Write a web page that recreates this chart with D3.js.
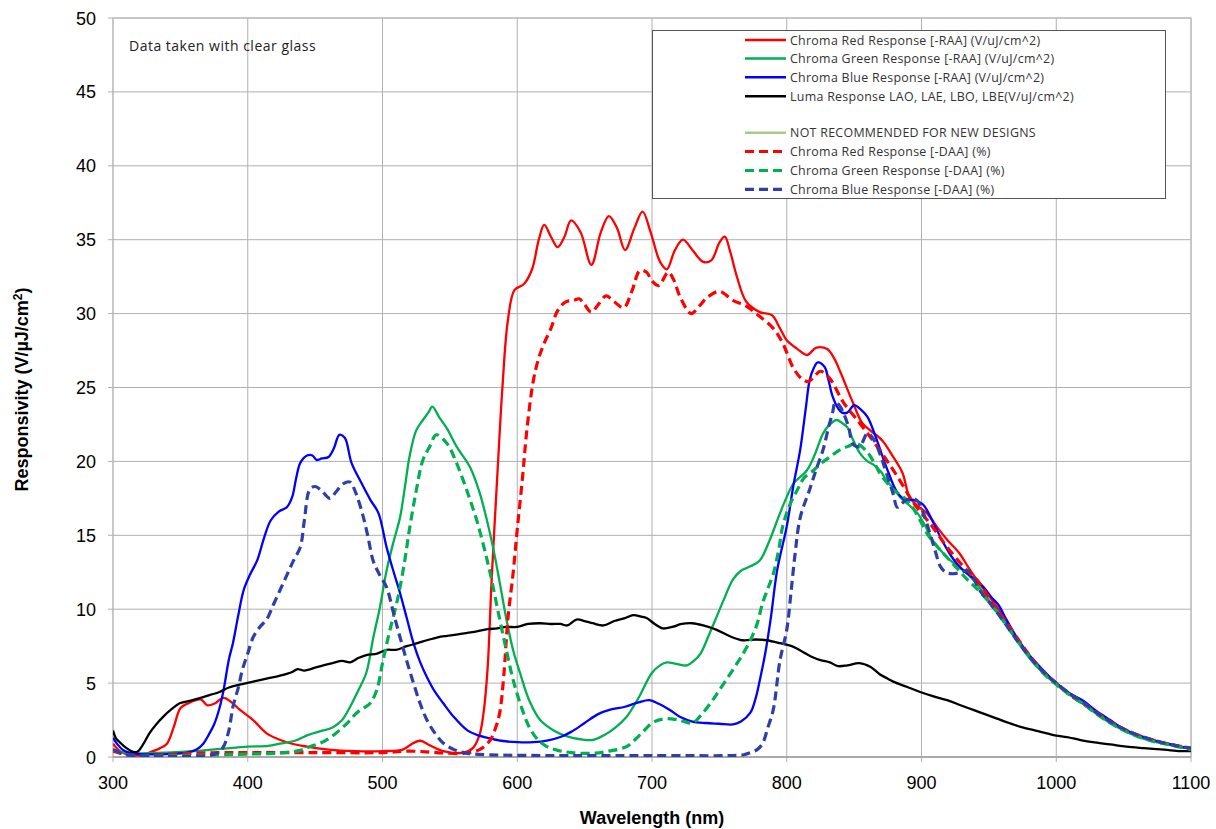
<!DOCTYPE html>
<html lang="en">
<head>
<meta charset="UTF-8">
<title>Spectral Responsivity</title>
<script src="https://d3js.org/d3.v7.min.js"></script>
<style>
  body { margin: 0; background: #fff; font-family: Arial, "Liberation Sans", sans-serif; }
  .grid line { stroke: #b0b0b0; stroke-width: 1px; }
  .tick-label { font-size: 18px; fill: #000; }
  .axis-title { font-size: 18px; font-weight: bold; fill: #000; }
  .legend-text { font-family: "Open Sans", sans-serif; font-size: 12.4px; letter-spacing: 0.3px; fill: #333; }
  .note { font-family: "Open Sans", sans-serif; font-size: 14px; letter-spacing: 0.5px; fill: #222; }
</style>
</head>
<body>
<svg width="1216" height="829"></svg>
<script>
// wavelength (nm), responsivity pairs
const redRAA = [[300,0.9],[305,0.4],[310,0.2],[320,0.1],[327,0.3],[335,0.6],[340,0.9],[345,2.0],[350,3.3],[355,3.6],[365,3.9],[370,3.5],[375,3.6],[382,4.0],[388,3.7],[394,3.2],[404,2.5],[414,1.6],[429,1.0],[444,0.7],[460,0.5],[480,0.4],[500,0.4],[515,0.5],[522,0.9],[528,1.1],[535,0.8],[545,0.4],[560,0.3],[567,0.6],[572,1.5],[575,3.0],[578,6.0],[581,12],[585,18.7],[589,25],[593,29.5],[598,31.6],[605,32],[611,33],[616,35],[620,36],[625,35.2],[630,34.5],[635,35.2],[640,36.3],[647,35.5],[655,33.3],[662,35.5],[668,36.6],[674,35.8],[680,34.3],[687,35.8],[693,36.9],[699,35.5],[706,33.5],[711,33],[717,34.3],[723,35],[730,34.3],[738,33.5],[744,33.6],[750,34.8],[754,35.2],[758,34.2],[763,32.5],[770,30.8],[780,30.1],[789,29.9],[795,29],[800,28.2],[808,27.6],[815,27.2],[822,27.7],[830,27.6],[835,27],[840,26],[849,24],[856,22.6],[862,22.1],[871,21.4],[879,20.3],[886,19.2],[891,17.6],[897,17],[904,16.5],[912,15.5],[919,14.7],[928,13.8],[935,12.8],[941,12],[950,10.9],[960,9.6],[970,8.1],[980,6.8],[990,5.8],[1000,5.0],[1010,4.3],[1020,3.6],[1030,3.0],[1040,2.4],[1050,1.9],[1060,1.5],[1070,1.2],[1080,0.95],[1090,0.75],[1100,0.55]];

const greenRAA = [[300,0.5],[305,0.35],[310,0.3],[320,0.25],[340,0.3],[360,0.4],[380,0.55],[400,0.7],[415,0.75],[424,0.9],[435,1.1],[445,1.5],[454,1.75],[463,2.0],[470,2.5],[476,3.4],[482,4.5],[488,5.7],[493,8.0],[498,10.1],[503,12.6],[508,14.5],[513,16.2],[517,18.5],[520,20.3],[525,22.1],[530,22.8],[534,23.3],[537,23.7],[542,23.0],[548,22.2],[555,21.0],[565,19.6],[572,17.9],[577,16.2],[582,14.2],[587,11.8],[592,9.3],[597,7.2],[602,5.7],[609,3.8],[617,2.5],[627,1.8],[637,1.4],[647,1.2],[656,1.15],[665,1.5],[673,2.0],[681,2.7],[690,4.0],[700,5.7],[706,6.2],[711,6.4],[718,6.3],[726,6.2],[731,6.5],[736,7.0],[742,8.2],[748,9.5],[754,10.8],[760,12.0],[766,12.6],[773,12.9],[780,13.3],[787,14.6],[795,16.5],[800,17.6],[805,18.5],[815,19.4],[821,20.5],[827,21.9],[832,22.5],[837,22.8],[841,22.6],[845,22.3],[849,21.5],[854,20.6],[860,20.0],[864,19.8],[870,19.3],[874,18.7],[879,18.2],[884,17.6],[890,17.1],[897,16.5],[903,15.6],[908,14.7],[914,14.0],[919,13.5],[927,12.9],[934,12.4],[941,11.7],[950,10.6],[960,9.4],[970,8.0],[980,6.7],[990,5.7],[1000,4.9],[1010,4.2],[1020,3.6],[1030,2.9],[1040,2.3],[1050,1.8],[1060,1.4],[1070,1.1],[1080,0.9],[1090,0.7],[1100,0.55]];

const blueRAA = [[300,1.3],[303,0.9],[307,0.5],[312,0.3],[320,0.2],[340,0.2],[355,0.3],[362,0.5],[367,0.9],[371,1.5],[375,2.2],[379,3.3],[382,4.5],[386,6.6],[389,7.7],[393,9.6],[397,11.3],[402,12.4],[407,13.3],[412,14.8],[417,16.0],[423,16.6],[429,16.9],[433,17.6],[436,18.9],[439,19.9],[444,20.4],[448,20.4],[451,20.1],[455,20.2],[460,20.3],[464,20.9],[468,21.8],[472,21.6],[477,19.9],[484,18.6],[491,17.4],[497,16.5],[503,14.2],[508,12.6],[513,11.1],[518,9.4],[523,7.7],[528,6.4],[533,5.4],[539,4.4],[545,3.65],[553,2.7],[563,1.8],[570,1.5],[578,1.3],[588,1.1],[600,1.0],[612,1.0],[622,1.1],[632,1.35],[640,1.7],[650,2.3],[660,2.9],[669,3.2],[680,3.4],[690,3.7],[698,3.85],[705,3.6],[713,3.2],[721,2.7],[730,2.4],[740,2.3],[750,2.25],[760,2.2],[766,2.4],[773,3.0],[777,4.0],[780,5.2],[784,7.0],[788,9.3],[793,12.7],[800,15.6],[805,18.4],[810,20.8],[814,23.5],[817,25.5],[820,26.3],[823,26.7],[828,26.4],[831,25.5],[834,24.4],[838,23.6],[841,23.3],[845,23.3],[850,23.8],[855,23.5],[860,23.0],[867,21.4],[874,19.6],[882,17.9],[888,17.4],[894,17.4],[901,17.1],[908,16.0],[915,14.7],[922,13.6],[928,12.9],[934,12.4],[940,12.0],[946,11.5],[952,10.8],[957,10.3],[963,9.3],[970,8.2],[980,6.9],[990,5.9],[1000,5.0],[1010,4.3],[1020,3.8],[1030,3.1],[1040,2.5],[1050,1.9],[1060,1.5],[1070,1.2],[1080,0.95],[1090,0.75],[1100,0.55]];

const lumaResp = [[300,1.8],[302,1.3],[305,1.0],[310,0.6],[315,0.35],[318,0.35],[322,0.8],[327,1.6],[332,2.2],[337,2.7],[343,3.2],[350,3.65],[357,3.8],[365,4.0],[372,4.2],[379,4.4],[386,4.7],[394,4.9],[404,5.1],[414,5.3],[424,5.5],[433,5.75],[437,5.95],[442,5.85],[452,6.1],[463,6.35],[470,6.5],[476,6.4],[482,6.7],[488,6.9],[496,7.0],[503,7.25],[510,7.25],[518,7.5],[526,7.7],[533,7.9],[541,8.1],[548,8.2],[556,8.3],[563,8.4],[570,8.5],[578,8.65],[585,8.7],[592,8.8],[600,8.8],[608,9.0],[617,9.05],[625,9.0],[632,9.0],[637,8.9],[644,9.3],[650,9.2],[656,9.05],[664,8.9],[672,9.2],[680,9.4],[686,9.6],[692,9.5],[696,9.4],[702,9.0],[708,8.7],[715,8.8],[722,9.0],[730,9.05],[738,8.9],[748,8.6],[757,8.2],[767,7.9],[777,7.95],[785,7.9],[795,7.7],[805,7.45],[812,7.1],[818,6.8],[825,6.55],[832,6.4],[838,6.15],[845,6.2],[854,6.35],[862,6.1],[869,5.6],[875,5.3],[879,5.1],[889,4.75],[899,4.4],[909,4.1],[919,3.85],[929,3.5],[938,3.2],[947,2.9],[956,2.6],[965,2.3],[975,2.0],[984,1.8],[993,1.6],[1000,1.45],[1008,1.35],[1018,1.15],[1027,1.0],[1040,0.85],[1052,0.7],[1065,0.6],[1080,0.5],[1092,0.4],[1100,0.4]];

const redDAA = [[300,0.4],[310,0.15],[320,0.1],[340,0.15],[360,0.25],[380,0.3],[400,0.3],[450,0.3],[500,0.3],[520,0.4],[540,0.3],[560,0.25],[572,0.5],[580,1.15],[584,2.0],[587,3.0],[590,5.5],[593,9.3],[597,12.5],[600,15.4],[604,19],[607,22],[612,25.5],[616,27],[620,28],[625,29],[630,30.2],[636,30.8],[642,30.9],[646,31],[650,30.6],[655,30.1],[660,30.6],[666,31.2],[672,30.8],[679,30.4],[685,31.5],[691,32.9],[696,32.8],[700,32.2],[705,31.9],[712,32.8],[716,32.3],[721,31.1],[729,30],[735,30.5],[741,31.1],[750,31.5],[760,30.9],[770,30.5],[780,29.8],[790,29],[797,28],[805,26.3],[811,25.6],[816,25.4],[820,25.7],[825,26.1],[832,25.6],[842,24],[854,22.6],[864,21.4],[874,20.1],[884,18.7],[894,17.2],[908,15.6],[919,14.2],[934,12.6],[941,12],[950,10.8],[960,9.5],[970,8.2],[980,6.9],[990,5.8],[1000,5.0],[1010,4.2],[1020,3.6],[1030,3.0],[1040,2.4],[1050,1.9],[1060,1.5],[1070,1.2],[1080,0.95],[1090,0.75],[1100,0.6]];

const greenDAA = [[300,0.5],[305,0.3],[310,0.15],[320,0.1],[350,0.1],[380,0.15],[400,0.2],[420,0.25],[439,0.45],[446,0.7],[454,0.95],[461,1.3],[468,1.8],[475,2.4],[481,3.0],[486,3.3],[491,3.65],[496,4.6],[500,6.35],[505,8.4],[511,10.6],[516,13],[520,15.4],[525,18],[530,20.1],[535,21.0],[540,21.8],[548,21.2],[554,20.1],[560,18.7],[565,17.4],[570,16.0],[575,14.3],[580,12.4],[587,9.3],[592,7.2],[597,5.2],[603,3.4],[609,2.0],[615,1.2],[622,0.7],[630,0.45],[640,0.3],[656,0.25],[668,0.4],[681,0.7],[690,1.4],[700,2.3],[705,2.5],[711,2.6],[720,2.5],[730,2.3],[737,2.9],[745,3.85],[752,4.8],[760,5.9],[767,6.9],[773,7.9],[778,9.0],[782,10.4],[786,11.4],[790,12.4],[794,14.0],[797,15.6],[802,17.0],[808,18.1],[813,18.9],[820,19.4],[826,19.9],[832,20.3],[838,20.7],[845,21.0],[852,21.2],[860,20.6],[865,19.9],[869,19.2],[874,18.6],[879,18.1],[889,17.4],[894,16.8],[899,16.0],[905,15.0],[912,14.2],[921,13.3],[927,12.7],[934,12.0],[941,11.4],[950,10.5],[960,9.3],[970,8.0],[980,6.8],[990,5.7],[1000,4.9],[1010,4.2],[1020,3.6],[1030,2.9],[1040,2.3],[1050,1.8],[1060,1.4],[1070,1.1],[1080,0.9],[1090,0.7],[1100,0.5]];

const blueDAA = [[300,0.5],[305,0.3],[310,0.15],[320,0.1],[370,0.1],[378,0.3],[382,0.7],[386,1.8],[389,3.4],[393,4.7],[396,5.9],[400,7.0],[404,8.1],[409,8.8],[414,9.3],[419,10.3],[424,11.3],[429,12.3],[434,13.3],[439,14.2],[442,16.0],[446,18.1],[450,18.3],[455,18.0],[461,17.5],[466,18.0],[471,18.5],[476,18.6],[480,17.9],[485,16.5],[489,15.0],[493,13.3],[498,12.3],[503,11.5],[508,9.8],[513,8.1],[518,6.5],[523,5.0],[528,3.6],[533,2.5],[539,1.6],[545,0.95],[553,0.5],[563,0.25],[580,0.15],[620,0.1],[700,0.1],[760,0.1],[768,0.15],[773,0.3],[778,0.5],[782,0.9],[786,2.0],[790,3.2],[795,6.55],[800,8.6],[803,11.0],[806,13.6],[810,16.2],[817,18.1],[822,19.5],[827,20.8],[831,22.3],[834,23.3],[836,24.0],[839,23.8],[842,23.3],[846,22.3],[849,21.2],[854,21.0],[860,21.9],[865,21.4],[870,20.3],[874,19.2],[879,17.8],[882,16.9],[886,17.2],[889,17.4],[896,17.4],[901,16.6],[906,15.2],[910,14.0],[914,12.9],[918,12.5],[923,12.4],[929,12.5],[934,12.6],[938,12.2],[943,11.3],[950,10.5],[960,9.3],[970,8.0],[980,6.8],[990,5.8],[1000,5.0],[1010,4.3],[1020,3.7],[1030,3.0],[1040,2.4],[1050,1.9],[1060,1.5],[1070,1.2],[1080,0.95],[1090,0.75],[1100,0.6]];

const xTicks = [300, 400, 500, 600, 700, 800, 900, 1000, 1100];
const yTicks = [0, 5, 10, 15, 20, 25, 30, 35, 40, 45, 50];

const seriesList = [
  { name: "Chroma Red Response [-RAA] (V/uJ/cm^2)", data: redRAA, color: "#ff0000", dash: null },
  { name: "Chroma Green Response [-RAA] (V/uJ/cm^2)", data: greenRAA, color: "#00b050", dash: null },
  { name: "Chroma Blue Response [-RAA] (V/uJ/cm^2)", data: blueRAA, color: "#0000ff", dash: null },
  { name: "Luma Response LAO, LAE, LBO, LBE(V/uJ/cm^2)", data: lumaResp, color: "#000000", dash: null },
  { name: "Chroma Red Response [-DAA] (%)", data: redDAA, color: "#ff0000", dash: "9,5" },
  { name: "Chroma Green Response [-DAA] (%)", data: greenDAA, color: "#00b050", dash: "9,5" },
  { name: "Chroma Blue Response [-DAA] (%)", data: blueDAA, color: "#2f3fa8", dash: "9,5" }
];

const legendRows = [
  { label: seriesList[0].name, color: "#ff0000", dash: null },
  { label: seriesList[1].name, color: "#00b050", dash: null },
  { label: seriesList[2].name, color: "#0000ff", dash: null },
  { label: seriesList[3].name, color: "#000000", dash: null },
  null,
  { label: "NOT RECOMMENDED FOR NEW DESIGNS", color: "#a9c98a", dash: null },
  { label: seriesList[4].name, color: "#ff0000", dash: "9,5" },
  { label: seriesList[5].name, color: "#00b050", dash: "9,5" },
  { label: seriesList[6].name, color: "#2f3fa8", dash: "9,5" }
];

const svg = d3.select("svg");
const pl = 113, pr = 1191, pt = 18, pb = 757;

const x = d3.scaleLinear().domain([300, 1100]).range([pl, pr]);
const y = d3.scaleLinear().domain([0, 50]).range([pb, pt]);

// grid
const grid = svg.append("g").attr("class", "grid");
grid.selectAll(".h").data(yTicks).enter().append("line")
  .attr("x1", pl - 5).attr("x2", pr)
  .attr("y1", d => y(d)).attr("y2", d => y(d));
grid.selectAll(".v").data(xTicks).enter().append("line")
  .attr("x1", d => x(d)).attr("x2", d => x(d))
  .attr("y1", pt).attr("y2", pb + 5);

svg.append("rect")
  .attr("x", pl).attr("y", pt)
  .attr("width", pr - pl).attr("height", pb - pt)
  .attr("fill", "none").attr("stroke", "#b8b8b8");

svg.append("line")
  .attr("x1", pl).attr("x2", pr).attr("y1", pb).attr("y2", pb)
  .attr("stroke", "#8c8c8c");

// tick labels
svg.append("g").selectAll("text").data(yTicks).enter().append("text")
  .attr("class", "tick-label")
  .attr("x", 96).attr("y", d => y(d) + 6.5)
  .attr("text-anchor", "end")
  .text(d => d);

svg.append("g").selectAll("text").data(xTicks).enter().append("text")
  .attr("class", "tick-label")
  .attr("x", d => x(d)).attr("y", 789)
  .attr("text-anchor", "middle")
  .text(d => d);

svg.append("text").attr("class", "axis-title")
  .attr("x", (pl + pr) / 2).attr("y", 824)
  .attr("text-anchor", "middle")
  .text("Wavelength (nm)");

const yt = svg.append("text").attr("class", "axis-title")
  .attr("transform", "translate(28," + ((pt + pb) / 2 + 2) + ") rotate(-90)")
  .attr("text-anchor", "middle");
yt.append("tspan").text("Responsivity (V/µJ/cm");
yt.append("tspan").attr("dy", -6).attr("font-size", "12px").text("2");
yt.append("tspan").attr("dy", 6).text(")");

// curves
svg.append("clipPath").attr("id", "plot-clip")
  .append("rect").attr("x", pl).attr("y", pt)
  .attr("width", pr - pl).attr("height", pb - pt);

const line = d3.line()
  .x(d => x(d[0])).y(d => y(d[1]))
  .curve(d3.curveCatmullRom.alpha(0.5));

svg.append("g").attr("clip-path", "url(#plot-clip)")
  .selectAll("path").data(seriesList).enter().append("path")
  .attr("d", d => line(d.data))
  .attr("fill", "none")
  .attr("stroke", d => d.color)
  .attr("stroke-width", d => d.dash ? 3.2 : 2.3)
  .attr("stroke-dasharray", d => d.dash)
  .attr("stroke-linejoin", "round");

// note
svg.append("text").attr("class", "note")
  .attr("x", 129).attr("y", 51)
  .text("Data taken with clear glass");

// legend
const lg = svg.append("g");
lg.append("rect")
  .attr("x", 652.5).attr("y", 30.5).attr("width", 513).attr("height", 168)
  .attr("fill", "#fff").attr("stroke", "#555").attr("stroke-width", 1);

const rowY = [40, 58.5, 77.3, 96.3, 0, 132.7, 151.5, 170.5, 189.3];
legendRows.forEach((r, i) => {
  if (!r) return;
  lg.append("line")
    .attr("x1", 745).attr("x2", 786)
    .attr("y1", rowY[i]).attr("y2", rowY[i])
    .attr("stroke", r.color)
    .attr("stroke-width", r.dash ? 3.2 : 2.5)
    .attr("stroke-dasharray", r.dash);
  lg.append("text").attr("class", "legend-text")
    .attr("x", 790).attr("y", rowY[i] + 4.5)
    .text(r.label);
});
</script>
</body>
</html>
